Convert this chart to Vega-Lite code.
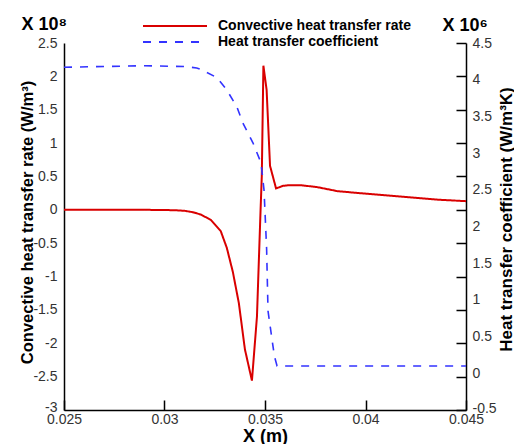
{
  "$schema": "https://vega.github.io/schema/vega-lite/v6.json",
  "width": 402,
  "height": 367,
  "autosize": {"type": "none"},
  "padding": {"left": 64, "top": 43, "right": 48, "bottom": 34},
  "background": "white",
  "config": {
    "font": "Liberation Sans",
    "view": {"stroke": null},
    "axis": {
      "grid": true,
      "gridColor": "black",
      "gridOpacity": 1,
      "gridWidth": 1.5,
      "ticks": false,
      "domainColor": "black",
      "domainWidth": 1.5,
      "labelFont": "Liberation Sans",
      "labelFontSize": 14,
      "labelColor": "#333333",
      "labelFlush": false,
      "labelOverlap": false,
      "labelBound": false,
      "titleFont": "Liberation Sans",
      "titleColor": "black"
    },
    "legend": {
      "orient": "none",
      "legendX": 78,
      "legendY": -24,
      "padding": 0,
      "symbolType": "stroke",
      "symbolSize": 4096,
      "symbolStrokeWidth": 1.8,
      "clipHeight": 14,
      "rowPadding": 2,
      "labelOffset": 10,
      "labelFont": "Liberation Sans",
      "labelFontSize": 14,
      "labelFontWeight": "bold",
      "labelColor": "black",
      "labelLimit": 400
    }
  },
  "data": {
    "values": [
      {"x": 0.025, "v": 0, "s": "Convective heat transfer rate"},
      {"x": 0.027, "v": 0, "s": "Convective heat transfer rate"},
      {"x": 0.029, "v": 0, "s": "Convective heat transfer rate"},
      {"x": 0.030, "v": -0.003, "s": "Convective heat transfer rate"},
      {"x": 0.0305, "v": -0.006, "s": "Convective heat transfer rate"},
      {"x": 0.031, "v": -0.015, "s": "Convective heat transfer rate"},
      {"x": 0.0314, "v": -0.035, "s": "Convective heat transfer rate"},
      {"x": 0.0318, "v": -0.07, "s": "Convective heat transfer rate"},
      {"x": 0.0323, "v": -0.15, "s": "Convective heat transfer rate"},
      {"x": 0.0328, "v": -0.32, "s": "Convective heat transfer rate"},
      {"x": 0.0331, "v": -0.57, "s": "Convective heat transfer rate"},
      {"x": 0.0334, "v": -0.93, "s": "Convective heat transfer rate"},
      {"x": 0.0337, "v": -1.4, "s": "Convective heat transfer rate"},
      {"x": 0.0340, "v": -2.09, "s": "Convective heat transfer rate"},
      {"x": 0.03435, "v": -2.56, "s": "Convective heat transfer rate"},
      {"x": 0.0346, "v": -1.6, "s": "Convective heat transfer rate"},
      {"x": 0.03478, "v": 0.0, "s": "Convective heat transfer rate"},
      {"x": 0.03484, "v": 0.5, "s": "Convective heat transfer rate"},
      {"x": 0.03492, "v": 2.16, "s": "Convective heat transfer rate"},
      {"x": 0.03508, "v": 1.8, "s": "Convective heat transfer rate"},
      {"x": 0.03525, "v": 0.66, "s": "Convective heat transfer rate"},
      {"x": 0.03555, "v": 0.32, "s": "Convective heat transfer rate"},
      {"x": 0.0359, "v": 0.36, "s": "Convective heat transfer rate"},
      {"x": 0.03625, "v": 0.37, "s": "Convective heat transfer rate"},
      {"x": 0.03675, "v": 0.37, "s": "Convective heat transfer rate"},
      {"x": 0.0376, "v": 0.34, "s": "Convective heat transfer rate"},
      {"x": 0.0386, "v": 0.28, "s": "Convective heat transfer rate"},
      {"x": 0.0397, "v": 0.25, "s": "Convective heat transfer rate"},
      {"x": 0.0417, "v": 0.2, "s": "Convective heat transfer rate"},
      {"x": 0.0437, "v": 0.15, "s": "Convective heat transfer rate"},
      {"x": 0.045, "v": 0.13, "s": "Convective heat transfer rate"},
      {"x": 0.025, "v": 4.17, "s": "Heat transfer coefficient"},
      {"x": 0.027, "v": 4.18, "s": "Heat transfer coefficient"},
      {"x": 0.029, "v": 4.19, "s": "Heat transfer coefficient"},
      {"x": 0.031, "v": 4.18, "s": "Heat transfer coefficient"},
      {"x": 0.0316, "v": 4.16, "s": "Heat transfer coefficient"},
      {"x": 0.0318, "v": 4.14, "s": "Heat transfer coefficient"},
      {"x": 0.0326, "v": 4.03, "s": "Heat transfer coefficient"},
      {"x": 0.0331, "v": 3.86, "s": "Heat transfer coefficient"},
      {"x": 0.0336, "v": 3.63, "s": "Heat transfer coefficient"},
      {"x": 0.0339, "v": 3.41, "s": "Heat transfer coefficient"},
      {"x": 0.0344, "v": 3.14, "s": "Heat transfer coefficient"},
      {"x": 0.0348, "v": 2.87, "s": "Heat transfer coefficient"},
      {"x": 0.03495, "v": 2.5, "s": "Heat transfer coefficient"},
      {"x": 0.0350, "v": 2.2, "s": "Heat transfer coefficient"},
      {"x": 0.03508, "v": 1.7, "s": "Heat transfer coefficient"},
      {"x": 0.03515, "v": 0.85, "s": "Heat transfer coefficient"},
      {"x": 0.03535, "v": 0.46, "s": "Heat transfer coefficient"},
      {"x": 0.03547, "v": 0.23, "s": "Heat transfer coefficient"},
      {"x": 0.0356, "v": 0.1, "s": "Heat transfer coefficient"},
      {"x": 0.045, "v": 0.1, "s": "Heat transfer coefficient"}
    ]
  },
  "layer": [
    {
      "transform": [{"filter": "datum.s === 'Convective heat transfer rate'"}],
      "mark": {"type": "line", "strokeWidth": 2},
      "encoding": {
        "x": {
          "field": "x", "type": "quantitative",
          "scale": {"domain": [0.025, 0.045], "nice": false, "zero": false},
          "axis": {
            "orient": "bottom",
            "values": [0.025, 0.03, 0.035, 0.04, 0.045],
            "labelExpr": "'' + datum.value",
            "labelPadding": 2,
            "gridDash": [0, 357, 10, 2000],
            "title": "X (m)",
            "titleFontSize": 18,
            "titleFontWeight": "bold",
            "titleX": 201,
            "titleY": 31,
            "titleAlign": "center",
            "titleBaseline": "alphabetic"
          }
        },
        "y": {
          "field": "v", "type": "quantitative",
          "scale": {"domain": [-3, 2.5], "nice": false, "zero": false},
          "axis": {
            "orient": "left",
            "values": [-3, -2.5, -2, -1.5, -1, -0.5, 0, 0.5, 1, 1.5, 2, 2.5],
            "labelExpr": "'' + datum.value",
            "labelPadding": 7,
            "labelOffset": {"condition": {"test": "datum.value == -3", "value": -3}, "value": 0},
            "gridDash": [0, 392, 10, 2000],
            "title": "Convective heat transfer rate (W/m³)",
            "titleFontSize": 16.5,
            "titleFontWeight": "bold",
            "titleAngle": 270,
            "titleX": -37,
            "titleY": 179,
            "titleAlign": "center",
            "titleBaseline": "middle"
          }
        },
        "color": {
          "field": "s", "type": "nominal",
          "scale": {"domain": ["Convective heat transfer rate", "Heat transfer coefficient"], "range": ["#d90000", "#3333ff"]},
          "legend": {"title": null}
        },
        "strokeDash": {
          "field": "s", "type": "nominal",
          "scale": {"domain": ["Convective heat transfer rate", "Heat transfer coefficient"], "range": [[1, 0], [8, 8]]},
          "legend": {"title": null}
        }
      }
    },
    {
      "transform": [{"filter": "datum.s === 'Heat transfer coefficient'"}],
      "mark": {"type": "line", "strokeWidth": 1.6},
      "encoding": {
        "x": {
          "field": "x", "type": "quantitative",
          "scale": {"domain": [0.025, 0.045], "nice": false, "zero": false},
          "axis": null
        },
        "y": {
          "field": "v", "type": "quantitative",
          "scale": {"domain": [-0.5, 4.5], "nice": false, "zero": false},
          "axis": {
            "orient": "right",
            "values": [-0.5, 0, 0.5, 1, 1.5, 2, 2.5, 3, 3.5, 4, 4.5],
            "labelExpr": "'' + datum.value",
            "labelPadding": 6,
            "labelOffset": {"condition": {"test": "datum.value == -0.5", "value": -2}, "value": 0},
            "gridDash": [0, 392, 10, 2000],
            "title": "Heat transfer coefficient (W/m³K)",
            "titleFontSize": 17,
            "titleFontWeight": "bold",
            "titleAngle": 270,
            "titleX": 40,
            "titleY": 176,
            "titleAlign": "center",
            "titleBaseline": "middle"
          }
        },
        "color": {
          "field": "s", "type": "nominal",
          "scale": {"domain": ["Convective heat transfer rate", "Heat transfer coefficient"], "range": ["#d90000", "#3333ff"]},
          "legend": {"title": null}
        },
        "strokeDash": {
          "field": "s", "type": "nominal",
          "scale": {"domain": ["Convective heat transfer rate", "Heat transfer coefficient"], "range": [[1, 0], [8, 8]]},
          "legend": {"title": null}
        }
      }
    },
    {
      "transform": [{"filter": "datum.s === 'Convective heat transfer rate'"}],
      "mark": {"type": "line", "opacity": 0},
      "encoding": {
        "x": {
          "field": "x", "type": "quantitative",
          "scale": {"domain": [0.025, 0.045], "nice": false, "zero": false},
          "axis": {
            "orient": "bottom",
            "values": [0.025, 0.026, 0.027, 0.028, 0.029, 0.03, 0.031, 0.032, 0.033, 0.034, 0.035, 0.036, 0.037, 0.038, 0.039, 0.04, 0.041, 0.042, 0.043, 0.044, 0.045],
            "domain": false,
            "labels": false,
            "gridDash": [0, 362, 5, 2000],
            "gridWidth": 1.2,
            "title": null
          }
        },
        "y": {
          "field": "v", "type": "quantitative",
          "scale": {"domain": [-3, 2.5], "nice": false, "zero": false},
          "axis": {
            "orient": "left",
            "values": [-3, -2.9, -2.8, -2.7, -2.6, -2.5, -2.4, -2.3, -2.2, -2.1, -2, -1.9, -1.8, -1.7, -1.6, -1.5, -1.4, -1.3, -1.2, -1.1, -1, -0.9, -0.8, -0.7, -0.6, -0.5, -0.4, -0.3, -0.2, -0.1, 0, 0.1, 0.2, 0.3, 0.4, 0.5, 0.6, 0.7, 0.8, 0.9, 1, 1.1, 1.2, 1.3, 1.4, 1.5, 1.6, 1.7, 1.8, 1.9, 2, 2.1, 2.2, 2.3, 2.4, 2.5],
            "domain": false,
            "labels": false,
            "gridDash": [0, 397, 5, 2000],
            "gridWidth": 1.2,
            "title": "X 10⁸",
            "titleFontSize": 18,
            "titleFontWeight": "bold",
            "titleAngle": 0,
            "titleX": -43,
            "titleY": -14,
            "titleAlign": "left",
            "titleBaseline": "alphabetic"
          }
        }
      }
    },
    {
      "transform": [{"filter": "datum.s === 'Heat transfer coefficient'"}],
      "mark": {"type": "line", "opacity": 0},
      "encoding": {
        "x": {
          "field": "x", "type": "quantitative",
          "scale": {"domain": [0.025, 0.045], "nice": false, "zero": false},
          "axis": null
        },
        "y": {
          "field": "v", "type": "quantitative",
          "scale": {"domain": [-0.5, 4.5], "nice": false, "zero": false},
          "axis": {
            "orient": "right",
            "values": [-0.5, -0.4, -0.3, -0.2, -0.1, 0, 0.1, 0.2, 0.3, 0.4, 0.5, 0.6, 0.7, 0.8, 0.9, 1, 1.1, 1.2, 1.3, 1.4, 1.5, 1.6, 1.7, 1.8, 1.9, 2, 2.1, 2.2, 2.3, 2.4, 2.5, 2.6, 2.7, 2.8, 2.9, 3, 3.1, 3.2, 3.3, 3.4, 3.5, 3.6, 3.7, 3.8, 3.9, 4, 4.1, 4.2, 4.3, 4.4, 4.5],
            "domain": false,
            "labels": false,
            "gridDash": [0, 397, 5, 2000],
            "gridWidth": 1.2,
            "title": "X 10⁶",
            "titleFontSize": 18,
            "titleFontWeight": "bold",
            "titleAngle": 0,
            "titleX": -24,
            "titleY": -13,
            "titleAlign": "left",
            "titleBaseline": "alphabetic"
          }
        }
      }
    }
  ],
  "resolve": {
    "scale": {"y": "independent"},
    "axis": {"x": "independent", "y": "independent"}
  }
}
